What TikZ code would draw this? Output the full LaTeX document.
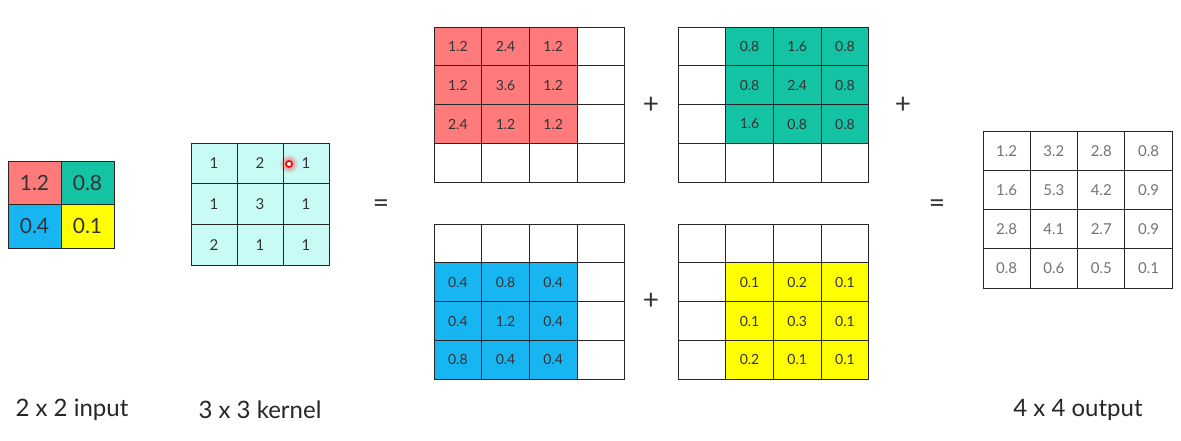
\documentclass[tikz,border=0pt]{standalone}
\usepackage{fontspec}
\setmainfont{Lato}
\definecolor{cellred}{HTML}{FF7B7B}
\definecolor{cellteal}{HTML}{14C3A4}
\definecolor{cellblue}{HTML}{17B5F2}
\definecolor{cellyellow}{HTML}{FFFF00}
\definecolor{kernfill}{HTML}{C9FBF6}
\tikzset{
  cell/.style={draw=black!85, line width=0.9pt, inner sep=0pt, text=black!80},
  bigcell/.style={cell, minimum width=47.7pt, minimum height=38.8pt, font=\fontsize{14}{14}\selectfont},
  op/.style={font=\fontsize{28}{28}\selectfont, text=black!80},
  caption/.style={font=\fontsize{24}{24}\selectfont, text=black!85},
}
\begin{document}
\begin{tikzpicture}[x=1pt,y=-1pt]
    \useasboundingbox (0,0) rectangle (1181,440);
    %% 2x2 input
    \foreach \v/\c/\r/\col in {1.2/1/1/cellred, 0.8/2/1/cellteal, 0.4/1/2/cellblue, 0.1/2/2/cellyellow}
    {
        \node[cell, fill=\col, minimum width=53pt, minimum height=43.5pt, font=\fontsize{21}{21}\selectfont]
            (in-\r-\c) at ({8+(\c-0.5)*53},{161+(\r-0.5)*43.5}) {\v};
    };
    %% 3x3 kernel
    \foreach \row [count=\r] in {{1,2,1},{1,3,1},{2,1,1}}
    {
        \foreach \v [count=\c] in \row
        {
            \node[cell, fill=kernfill, minimum width=46pt, minimum height=40.7pt, font=\fontsize{15}{15}\selectfont]
                (k-\r-\c) at ({191+(\c-0.5)*46},{143+(\r-0.5)*40.7}) {\v};
        };
    };
    \foreach \s/\o in {18/0.12, 13/0.18, 9/0.25}
        \fill[red, opacity=\o] (289,164) circle (\s*0.5pt);
    \node[circle, draw=red, line width=1.6pt, fill=white, minimum size=6pt, inner sep=0pt] (dot) at (289,164) {};
    
    %% scaled kernels placed in the 4x4 output
    \foreach \nm/\bx/\by/\dc/\dr/\col/\vals in
    {pa/434/27/0/0/cellred/{{1.2,2.4,1.2},{1.2,3.6,1.2},{2.4,1.2,1.2}},
        pb/678/27/1/0/cellteal/{{0.8,1.6,0.8},{0.8,2.4,0.8},{1.6,0.8,0.8}},
        pc/434/224/0/1/cellblue/{{0.4,0.8,0.4},{0.4,1.2,0.4},{0.8,0.4,0.4}},
        pd/678/224/1/1/cellyellow/{{0.1,0.2,0.1},{0.1,0.3,0.1},{0.2,0.1,0.1}}}
    {
        \foreach \r in {1,...,4}
            \foreach \c in {1,...,4}
                \node[bigcell, fill=white] (\nm-\r-\c) at ({\bx+(\c-0.5)*47.7},{\by+(\r-0.5)*38.8}) {};
        \foreach \row [count=\r] in \vals
        {
            \foreach \v [count=\c] in \row
            {
                \pgfmathtruncatemacro{\rr}{\r+\dr}
                \pgfmathtruncatemacro{\cc}{\c+\dc}
                \node[bigcell, fill=\col] (\nm-\rr-\cc) at ({\bx+(\cc-0.5)*47.7},{\by+(\rr-0.5)*38.8}) {\v};
            };
        };
    };
    
    %% 4x4 output
    \foreach \row [count=\r] in {{1.2,3.2,2.8,0.8},{1.6,5.3,4.2,0.9},{2.8,4.1,2.7,0.9},{0.8,0.6,0.5,0.1}}
    {
        \foreach \v [count=\c] in \row
        {
            \node[cell, fill=white, text=black!55, minimum width=47.3pt, minimum height=39.3pt, font=\fontsize{15}{15}\selectfont]
                (out-\r-\c) at ({983+(\c-0.5)*47.3},{131+(\r-0.5)*39.3}) {\v};
        };
    };
    
    \node[op] (plus1) at (651,105) {+};
    \node[op] (plus2) at (903,105) {+};
    \node[op] (plus3) at (651,301) {+};
    \node[op] (eq1) at (381,206) {=};
    \node[op] (eq2) at (937,206) {=};
    
    \node[caption] (capin) at (72,410) {2 x 2 input};
    \node[caption] (capk) at (260,410) {3 x 3 kernel};
    \node[caption] (capout) at (1078,410) {4 x 4 output};
\end{tikzpicture}
\end{document}
